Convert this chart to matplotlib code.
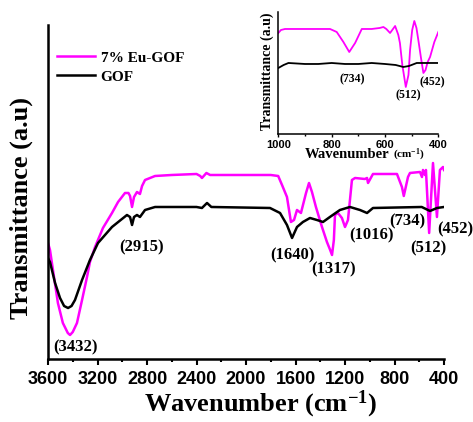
import matplotlib.pyplot as plt
from matplotlib.ticker import MultipleLocator

plt.rcParams['mathtext.default'] = 'regular'

# main spectrum: wavenumber (cm-1) and transmittance (a.u)
eu_wn = [3600, 3584, 3560, 3520, 3480, 3440, 3422, 3400, 3366, 3325, 3285, 3261, 3220, 3156, 3083,
         3034, 2978, 2950, 2937, 2921, 2905, 2881, 2857, 2840, 2816, 2735, 2600, 2400, 2370, 2356,
         2320, 2290, 1800, 1740, 1709, 1669, 1637, 1612, 1588, 1556, 1515, 1491, 1467, 1435, 1386,
         1346, 1320, 1305, 1290, 1281, 1257, 1225, 1200, 1176, 1144, 1119, 1040, 1022, 1014, 974,
         780, 740, 725, 691, 675, 594, 578, 570, 554, 546, 520, 489, 457, 433, 408, 400]
eu_t = [116, 109, 89, 56, 36, 26, 24, 27, 36, 59, 82, 97, 112, 131, 146,
        157, 166, 166, 163, 152, 162, 167, 165, 173, 179, 183, 184, 185, 183, 181,
        186, 184, 184, 183, 174, 162, 137, 139, 149, 146, 166, 176, 167, 152, 132,
        117, 109, 104, 119, 144, 146, 141, 132, 139, 179, 181, 180, 181, 176, 185,
        185, 172, 163, 182, 186, 187, 182, 189, 184, 189, 126, 196, 142, 189, 192, 189]

gof_wn = [3600, 3584, 3543, 3503, 3470, 3438, 3410, 3382, 3325, 3261, 3196, 3083, 2962, 2937, 2921,
          2905, 2881, 2857, 2816, 2735, 2400, 2356, 2315, 2280, 1806, 1725, 1669, 1628, 1588, 1540,
          1483, 1427, 1378, 1322, 1241, 1160, 1079, 1022, 974, 580, 513, 457, 400]
gof_t = [101, 97, 76, 61, 53, 51, 53, 59, 79, 99, 116, 132, 144, 142, 134,
         142, 144, 142, 149, 152, 152, 151, 156, 152, 151, 146, 134, 121, 132, 137,
         141, 139, 137, 142, 149, 152, 149, 146, 151, 152, 148, 151, 152]

# inset 1000-400 cm-1
in_eu_wn = [1000, 990, 975, 900, 806, 781, 756, 734, 712, 687, 650, 620, 606, 595, 581, 570, 562,
            550, 544, 535, 522, 512, 506, 498, 490, 482, 475, 465, 456, 448, 440, 431, 415, 400]
in_eu_t = [101, 104, 105, 105, 105, 102, 92, 82, 91, 105, 105, 106, 107, 105, 101, 105, 108,
           99, 91, 69, 47, 59, 84, 104, 113, 106, 94, 76, 61, 64, 72, 77, 92, 102]
in_gof_wn = [1000, 980, 962, 900, 850, 800, 750, 700, 650, 600, 560, 531, 510, 481, 450, 400]
in_gof_t = [66, 69, 71, 70, 70, 71, 70, 70, 71, 70, 69, 67, 68, 71, 71, 71]

# peak labels (text, x, y)
main_peaks = [('(3432)', 3374, 12), ('(2915)', 2840, 112), ('(1640)', 1628, 104),
              ('(1317)', 1289, 90), ('(1016)', 982, 124), ('(734)', 699, 138),
              ('(512)', 530, 111), ('(452)', 311, 130)]
inset_peaks = [('(734)', 724, 55), ('(512)', 514, 39), ('(452)', 424, 52)]

MAG = '#ff00ff'
serif = 'Liberation Serif'
sans = 'Liberation Sans'

fig = plt.figure(figsize=(4.73, 4.22), dpi=100)
ax = fig.add_axes([0.1015, 0.1493, 0.8372, 0.7915])
ax.plot(eu_wn, eu_t, color=MAG, lw=1.8, label='7% Eu-GOF')
ax.plot(gof_wn, gof_t, color='black', lw=1.8, label='GOF')
ax.set_xlim(3600, 400)
ax.set_ylim(0, 334)
ax.spines['top'].set_visible(False)
ax.spines['right'].set_visible(False)
ax.spines['left'].set_linewidth(1.8)
ax.spines['bottom'].set_linewidth(1.8)
ax.set_yticks([])
ax.xaxis.set_major_locator(MultipleLocator(400))
ax.xaxis.set_minor_locator(MultipleLocator(200))
ax.tick_params(axis='x', which='major', length=4.3, width=1.5, pad=4)
ax.tick_params(axis='x', which='minor', length=2.5, width=1.5)
for lab in ax.get_xticklabels():
    lab.set_fontfamily(sans)
    lab.set_fontweight('bold')
    lab.set_fontsize(13)

for txt, x, y in main_peaks:
    ax.text(x, y, txt, ha='center', va='center', fontsize=12, fontweight='bold',
            family=serif, clip_on=False)

leg = ax.legend(loc='upper left', bbox_to_anchor=(0.1205, 0.879), bbox_transform=fig.transFigure,
                frameon=False, borderpad=0, borderaxespad=0, handlelength=2.5,
                handletextpad=0.35, labelspacing=0.35,
                prop={'family': serif, 'weight': 'bold', 'size': 11})

fig.text(0.55, 1 - 411 / 422, 'Wavenumber (cm$^{-1}$)', ha='center', va='baseline',
         fontsize=19, fontweight='bold', family=serif)
fig.text(0.045, 0.508, 'Transmittance (a.u)', ha='center', va='center', rotation=90,
         fontsize=19, fontweight='bold', family=serif)

# inset
axin = fig.add_axes([0.5884, 0.6825, 0.3383, 0.2891])
axin.patch.set_alpha(0)
axin.plot(in_eu_wn, in_eu_t, color=MAG, lw=1.3)
axin.plot(in_gof_wn, in_gof_t, color='black', lw=1.3)
axin.set_xlim(1000, 400)
axin.set_ylim(0, 122)
axin.spines['top'].set_visible(False)
axin.spines['right'].set_visible(False)
axin.spines['left'].set_linewidth(1.1)
axin.spines['bottom'].set_linewidth(1.1)
axin.set_yticks([])
axin.xaxis.set_major_locator(MultipleLocator(200))
axin.xaxis.set_minor_locator(MultipleLocator(100))
axin.tick_params(axis='x', which='major', length=2.5, width=1, pad=1.5)
axin.tick_params(axis='x', which='minor', length=1.5, width=1)
for lab in axin.get_xticklabels():
    lab.set_fontfamily(sans)
    lab.set_fontweight('bold')
    lab.set_fontsize(8)
for txt, x, y in inset_peaks:
    axin.text(x, y, txt, ha='center', va='center', fontsize=8.5, fontweight='bold', family=serif)

# inset axis titles, the unit is set smaller as in the original
fig.text(389 / 473, 1 - 158 / 422, 'Wavenumber', ha='right', va='baseline',
         fontsize=10.5, fontweight='bold', family=serif)
fig.text(393 / 473, 1 - 158 / 422, '(cm$^{-1}$)', ha='left', va='baseline',
         fontsize=8, fontweight='bold', family=serif)
fig.text(267 / 473, 1 - 71 / 422, 'Transmittance (a.u)', ha='center', va='center', rotation=90,
         fontsize=10, fontweight='bold', family=serif)

plt.savefig('out.png', dpi=100)
